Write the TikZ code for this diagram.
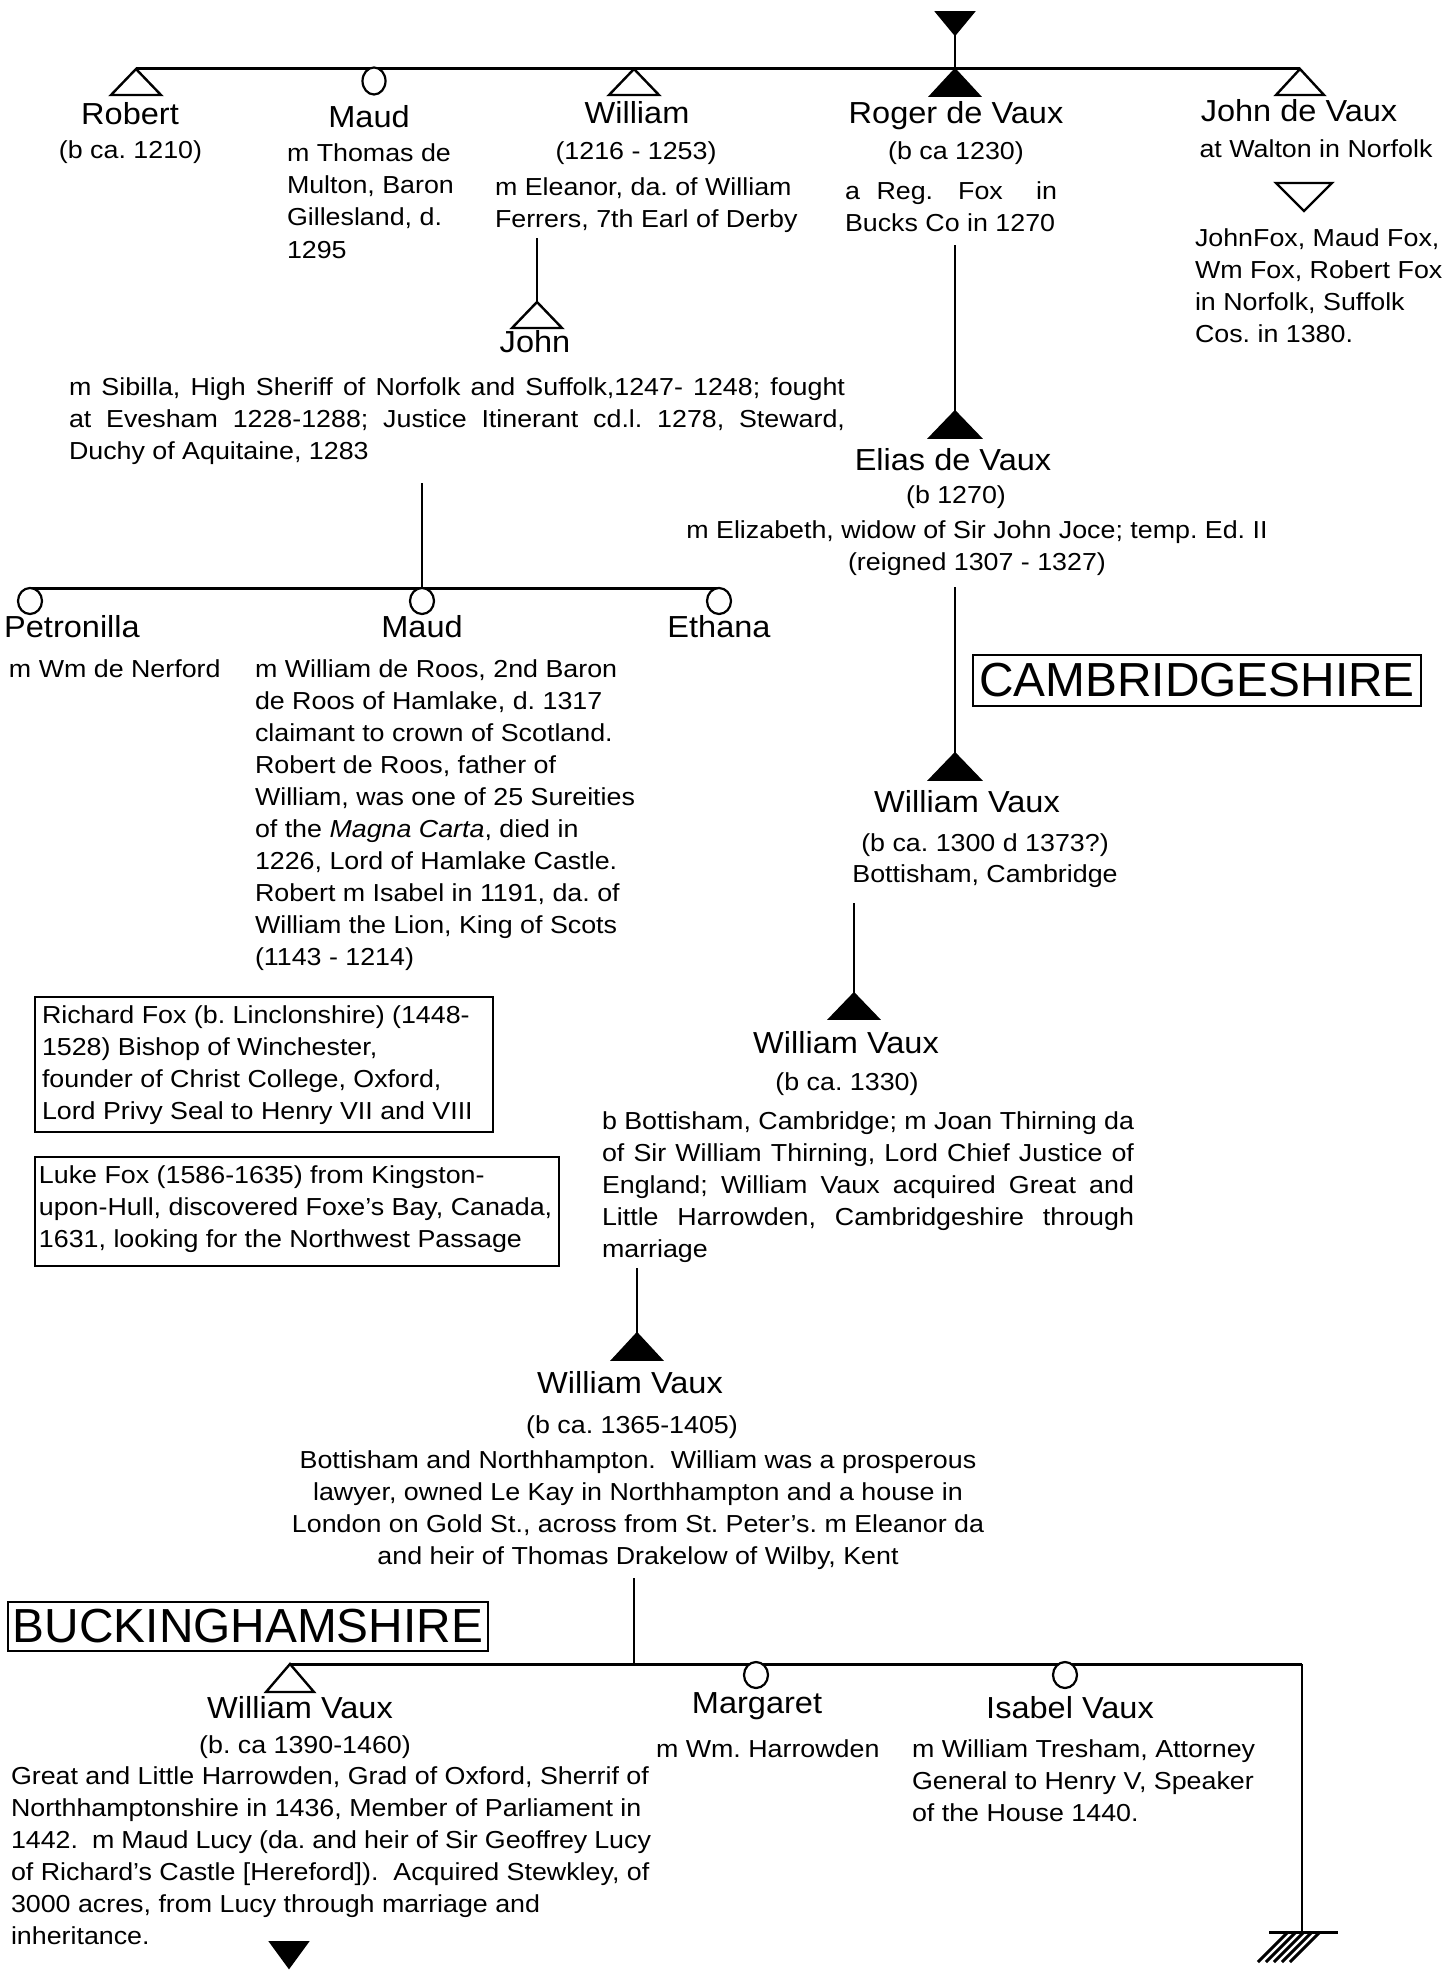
\documentclass[tikz,border=0pt]{standalone}
\usepackage{fontspec}
\setmainfont{Liberation Sans}
\newfontfamily\bodyf{Liberation Sans}[FakeStretch=1.09]
\newfontfamily\namef{Liberation Sans}[FakeStretch=1.07]
\newcommand\bdfont{\bodyf\fontsize{12.3}{16}\selectfont\frenchspacing}
\newcommand\nmfont{\namef\fontsize{15.2}{18}\selectfont}
\newcommand\cyfont{\fontsize{23.9}{26}\selectfont}
\newcommand\jline[2]{\makebox[#1][s]{#2}}
\begin{document}
\frenchspacing
\begin{tikzpicture}[x=0.5pt,y=-0.5pt,
  bar/.style={line width=1.5pt},
  stem/.style={line width=1pt},
  opentri/.style={line width=1.2pt, fill=white, line join=miter},
  filltri/.style={line width=0.8pt, fill=black, line join=miter},
  fem/.style={line width=1.1pt, fill=white},
  boxline/.style={line width=1.2pt},
  nm/.style={inner sep=0, outer sep=0, anchor=base, font=\nmfont},
  bd/.style={inner sep=0, outer sep=0, anchor=base, font=\bdfont},
  bdl/.style={inner sep=0, outer sep=0, anchor=base west, font=\bdfont},
  county/.style={draw, line width=1.3pt, inner sep=0, font=\cyfont}
]
\useasboundingbox (0,0) rectangle (1445,1975);

% ---------- top generation ----------
\coordinate (top) at (955,35);
\coordinate (robA) at (136,69);
\coordinate (maudA) at (374,69);
\coordinate (wilA) at (634,69);
\coordinate (rogA) at (955,69);
\coordinate (jdvA) at (1300,69);
\draw[filltri] (top) -- (936,12) -- (974,12) -- cycle;
\draw[stem] (top) -- (rogA);
\draw[bar] (robA) -- (jdvA);
\draw[opentri] (robA) -- ++(-25,26) -- ++(50,0) -- cycle;
\draw[fem] (374,81) ellipse [x radius=11.5, y radius=13.5];
\draw[opentri] (wilA) -- ++(-25,26) -- ++(50,0) -- cycle;
\draw[filltri] (rogA) -- ++(-25,27) -- ++(50,0) -- cycle;
\draw[opentri] (jdvA) -- ++(-24,26) -- ++(48,0) -- cycle;

\node[nm] (robN) at (130,125) {Robert};
\node[bd] (robD) at (130.5,158) {(b ca. 1210)};

\node[nm] (maudN) at (369,127) {Maud};
\node[bdl] (maudT) at (287,162) {\parbox[t]{150pt}{\raggedright m Thomas de\\Multon, Baron\\Gillesland, d.\\1295}};

\node[nm] (wilN) at (637,124) {William};
\node[bd] (wilD) at (636,159) {(1216 - 1253)};
\node[bdl] (wilT) at (495,195) {\parbox[t]{170pt}{\raggedright m Eleanor, da. of William\\Ferrers, 7th Earl of Derby}};

\node[nm] (rogN) at (956,124) {Roger de Vaux};
\node[bd] (rogD) at (956,159) {(b ca 1230)};
\node[bdl] (rogT) at (845,199) {\parbox[t]{130pt}{\jline{106pt}{a\ \ Reg.\ \ \ Fox\ \ \ \ in}\\Bucks Co in 1270}};

\node[nm] (jdvN) at (1299,121) {John de Vaux};
\node[bd] (jdvD) at (1316,157) {at Walton in Norfolk};
\coordinate (jdvV) at (1304,211);
\draw[opentri] (jdvV) -- (1276,183) -- (1332,183) -- cycle;
\node[bdl] (jdvT) at (1195,246) {\parbox[t]{130pt}{\raggedright JohnFox, Maud Fox,\\Wm Fox, Robert Fox\\in Norfolk, Suffolk\\Cos. in 1380.}};

% ---------- John ----------
\coordinate (wilS) at (537,238);
\coordinate (johnA) at (537,302);
\draw[stem] (wilS) -- (johnA);
\draw[opentri] (johnA) -- ++(-25,26) -- ++(50,0) -- cycle;
\node[nm] (johnN) at (535,352) {John};
\node[bdl] (johnT) at (69,395) {\parbox[t]{400pt}{\jline{388pt}{m Sibilla, High Sheriff of Norfolk and Suffolk,1247- 1248; fought}\\\jline{388pt}{at Evesham 1228-1288; Justice Itinerant cd.l. 1278, Steward,}\\Duchy of Aquitaine, 1283}};

\coordinate (johnS) at (422,483);
\coordinate (johnB) at (422,588);
\coordinate (petA) at (30,588);
\coordinate (ethA) at (719,588);
\draw[stem] (johnS) -- (johnB);
\draw[bar] (petA) -- (ethA);
\draw[fem] (30,601) ellipse [x radius=12, y radius=13];
\draw[fem] (422,601) ellipse [x radius=12, y radius=13];
\draw[fem] (719,601) ellipse [x radius=12, y radius=13];
\node[nm] (petN) at (72,637) {Petronilla};
\node[nm] (maud2N) at (422,637) {Maud};
\node[nm] (ethN) at (719,637) {Ethana};
\node[bdl] (petT) at (9,677) {m Wm de Nerford};
\node[bdl] (maud2T) at (255,677) {\parbox[t]{220pt}{\raggedright m William de Roos, 2nd Baron\\de Roos of Hamlake, d. 1317\\claimant to crown of Scotland.\\Robert de Roos, father of\\William, was one of 25 Sureities\\of the \textit{Magna Carta}, died in\\1226, Lord of Hamlake Castle.\\Robert m Isabel in 1191, da. of\\William the Lion, King of Scots\\(1143 - 1214)}};

% ---------- Elias ----------
\coordinate (rogS) at (955,245);
\coordinate (eliA) at (955,411);
\draw[stem] (rogS) -- (eliA);
\draw[filltri] (eliA) -- ++(-26,27) -- ++(52,0) -- cycle;
\node[nm] (eliN) at (953,470) {Elias de Vaux};
\node[bd] (eliD) at (956,503) {(b 1270)};
\node[bd] (eliT) at (977,538) {\parbox[t]{330pt}{\centering m Elizabeth, widow of Sir John Joce; temp. Ed. II\\(reigned 1307 - 1327)}};

\node[county] (cambs) at (1197,680.5) [minimum width=224pt, minimum height=25.5pt] {CAMBRIDGESHIRE};

\coordinate (eliS) at (955,587);
\coordinate (wv1A) at (955,753);
\draw[stem] (eliS) -- (wv1A);
\draw[filltri] (wv1A) -- ++(-26,27) -- ++(52,0) -- cycle;
\node[nm] (wv1N) at (967,812) {William Vaux};
\node[bd] (wv1T) at (985,851) {\parbox[t]{170pt}{\centering (b ca. 1300 d 1373?)\\[-0.5pt]Bottisham, Cambridge}};

% ---------- William Vaux (b ca. 1330) ----------
\coordinate (wv1S) at (854,903);
\coordinate (wv2A) at (854,993);
\draw[stem] (wv1S) -- (wv2A);
\draw[filltri] (wv2A) -- ++(-25,26) -- ++(50,0) -- cycle;
\node[nm] (wv2N) at (846,1053) {William Vaux};
\node[bd] (wv2D) at (847,1090) {(b ca. 1330)};
\node[bdl] (wv2T) at (602,1129) {\parbox[t]{290pt}{\jline{266pt}{b Bottisham, Cambridge; m Joan Thirning da}\\\jline{266pt}{of Sir William Thirning, Lord Chief Justice of}\\\jline{266pt}{England; William Vaux acquired Great and}\\\jline{266pt}{Little Harrowden, Cambridgeshire through}\\marriage}};

% ---------- side boxes ----------
\draw[boxline] (35,997) rectangle (493,1132);
\node[bdl] (richT) at (42,1023) {\parbox[t]{250pt}{\raggedright Richard Fox (b. Linclonshire) (1448-\\1528) Bishop of Winchester,\\founder of Christ College, Oxford,\\Lord Privy Seal to Henry VII and VIII}};
\draw[boxline] (35,1157) rectangle (559,1266);
\node[bdl] (lukeT) at (39,1183) {\parbox[t]{280pt}{\raggedright Luke Fox (1586-1635) from Kingston-\\upon-Hull, discovered Foxe’s Bay, Canada,\\1631, looking for the Northwest Passage}};

% ---------- William Vaux (b ca. 1365) ----------
\coordinate (wv2S) at (637,1268);
\coordinate (wv3A) at (637,1333);
\draw[stem] (wv2S) -- (wv3A);
\draw[filltri] (wv3A) -- ++(-25,27) -- ++(50,0) -- cycle;
\node[nm] (wv3N) at (630,1393) {William Vaux};
\node[bd] (wv3D) at (632,1433) {(b ca. 1365-1405)};
\node[bd] (wv3T) at (638,1468) {\parbox[t]{380pt}{\centering Bottisham and Northhampton.\ \ William was a prosperous\\lawyer, owned Le Kay in Northhampton and a house in\\London on Gold St., across from St. Peter’s. m Eleanor da\\and heir of Thomas Drakelow of Wilby, Kent}};

\node[county] (bucks) at (248,1626.5) [minimum width=240pt, minimum height=24.5pt] {BUCKINGHAMSHIRE};

% ---------- last generation ----------
\coordinate (wv3S) at (634,1578);
\coordinate (wv3B) at (634,1664);
\coordinate (wv4A) at (290,1664);
\coordinate (endA) at (1302,1664);
\coordinate (gnd) at (1302,1932);
\draw[stem] (wv3S) -- (wv3B);
\draw[bar] (wv4A) -- (endA);
\draw[stem] (endA) -- (gnd);
\draw[opentri] (wv4A) -- ++(-24,28) -- ++(48,0) -- cycle;
\draw[fem] (756,1675) ellipse [x radius=12, y radius=13];
\draw[fem] (1065,1675) ellipse [x radius=12, y radius=13];

\node[nm] (wv4N) at (300,1718) {William Vaux};
\node[nm] (marN) at (757,1713) {Margaret};
\node[nm] (isaN) at (1070,1718) {Isabel Vaux};
\node[bd] (wv4D) at (305,1753) {(b. ca 1390-1460)};
\node[bdl] (marT) at (656,1757) {m Wm. Harrowden};
\node[bdl] (isaT) at (912,1757) {\parbox[t]{200pt}{\raggedright m William Tresham, Attorney\\General to Henry V, Speaker\\of the House 1440.}};
\node[bdl] (wv4T) at (11,1784) {\parbox[t]{320pt}{\raggedright Great and Little Harrowden, Grad of Oxford, Sherrif of\\Northhamptonshire in 1436, Member of Parliament in\\1442.\ \ m Maud Lucy (da. and heir of Sir Geoffrey Lucy\\of Richard’s Castle [Hereford]).\ \ Acquired Stewkley, of\\3000 acres, from Lucy through marriage and\\inheritance.}};

\coordinate (wv4V) at (289,1968);
\draw[filltri] (wv4V) -- (270,1942) -- (308,1942) -- cycle;

% ground symbol
\draw[bar] (1269,1932) -- (1338,1932);
\foreach \i in {0,1,2,3,4}
  \draw[line width=1.5pt] ({1258+8*\i},1962) -- ({1288+8*\i},1932);
\end{tikzpicture}
\end{document}
